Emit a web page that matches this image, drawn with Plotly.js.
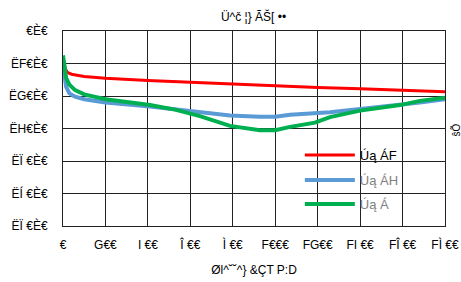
<!DOCTYPE html>
<html><head><meta charset="utf-8">
<script src="https://cdn.plot.ly/plotly-3.0.1.min.js"></script>
<style>html,body{margin:0;padding:0;background:#fff}</style>
</head><body><div id="chart" style="width:461px;height:282px"></div>
<script>
const titleText = "Ü^č ¦} ÃŠ[ ••";
const xTitle = "Øl^˘˘^} &ÇT P:D";
const y2Title = "ŝÕ";
const xTickVals = [0,200,400,600,800,1000,1200,1400,1600,1800];
const xTickText = ["€","G€€","I €€","Î €€","Ì €€","F€€€","FG€€","FI €€","FÎ €€","FÌ €€"];
const yTickVals = [0,-1,-2,-3,-4,-5,-6];
const yTickText = ["€È€","ËF€È€","ËG€È€","ËH€È€","ËÏ €È€","ËÍ €È€","ËÏ €È€"];
const names = ["Úą ÁF","Úą ÁH","Úą Á"];

const redX = [0,5,10,20,40,100,200,400,600,800,1000,1200,1400,1600,1800];
const redY = [-0.8,-1.0,-1.15,-1.27,-1.33,-1.4,-1.45,-1.52,-1.58,-1.64,-1.70,-1.74,-1.78,-1.82,-1.87];
const blueX = [0,4,8,15,30,57,100,200,410,528,645,787,928,1000,1070,1258,1400,1588,1682,1800];
const blueY = [-1.05,-1.3,-1.5,-1.72,-1.92,-2.02,-2.1,-2.2,-2.32,-2.4,-2.5,-2.6,-2.64,-2.64,-2.58,-2.5,-2.4,-2.28,-2.2,-2.1];
const greenX = [0,3,6,15,30,57,100,200,410,528,645,787,928,1000,1070,1187,1258,1400,1588,1682,1800];
const greenY = [-0.75,-0.9,-1.1,-1.45,-1.65,-1.82,-1.95,-2.1,-2.28,-2.42,-2.62,-2.92,-3.05,-3.05,-2.95,-2.82,-2.65,-2.45,-2.28,-2.15,-2.05];

const traces = [
  {x:redX,y:redY,name:names[0],mode:'lines',line:{color:'#ff0000',width:3},legend:'legend'},
  {x:blueX,y:blueY,name:'<span style="fill:#808080">'+names[1]+'</span>',mode:'lines',line:{color:'#5b9bd5',width:4},legend:'legend2'},
  {x:greenX,y:greenY,name:'<span style="fill:#808080">'+names[2]+'</span>',mode:'lines',line:{color:'#00b050',width:4},legend:'legend3'}
];
const font = {family:'"Liberation Sans", Arial, sans-serif', color:'#000', size:12};
const leg = (y) => ({x:0.62,y:y,xanchor:'left',yanchor:'middle',bgcolor:'rgba(0,0,0,0)',font:{size:13},itemwidth:50});
const layout = {
  width:461,height:282,
  margin:{l:63,r:16,t:31,b:56},
  paper_bgcolor:'#fff',plot_bgcolor:'#fff',
  font:font,
  showlegend:true,
  title:{text:titleText,x:0.55,xanchor:'center',y:0.94,yanchor:'middle',font:{size:12,family:font.family,color:'#000'}},
  xaxis:{range:[0,1800],tickvals:xTickVals,ticktext:xTickText,showgrid:true,gridcolor:'#222',gridwidth:1,
    zeroline:false,showline:true,linecolor:'#222',linewidth:1,mirror:true,ticks:'',ticklabelstandoff:8,
    tickfont:{size:12},title:{text:xTitle,font:{size:12},standoff:14}},
  yaxis:{range:[-6,0],tickvals:yTickVals,ticktext:yTickText,showgrid:true,gridcolor:'#222',gridwidth:1,
    zeroline:false,showline:true,linecolor:'#222',linewidth:1,mirror:true,ticks:'',ticklabelstandoff:12,tickfont:{size:12}},
  legend:leg(0.364),
  legend2:leg(0.236),
  legend3:leg(0.113),
  annotations:[{text:y2Title,xref:'paper',yref:'paper',x:1.008,y:0.49,xanchor:'left',yanchor:'middle',showarrow:false,textangle:-90,font:{size:10}}]
};
Plotly.newPlot('chart',traces,layout,{displayModeBar:false,staticPlot:true});
</script></body></html>
